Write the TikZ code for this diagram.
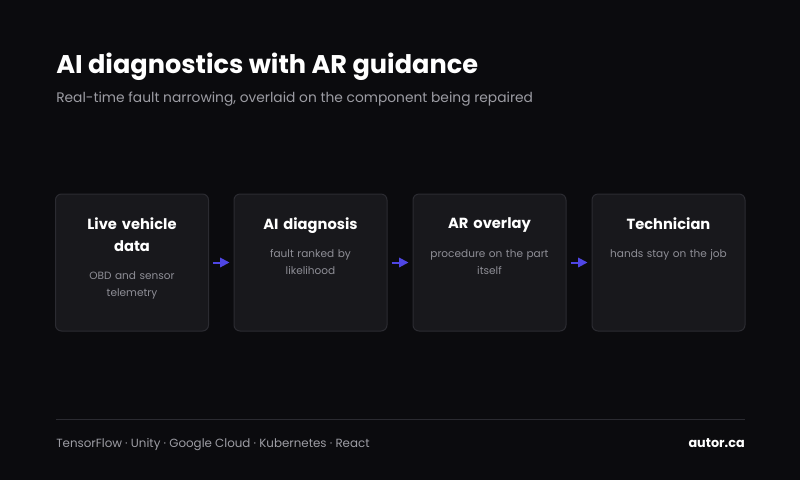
\documentclass[tikz,border=0pt]{standalone}
\usepackage{fontspec}
\setmainfont{Poppins}
\usetikzlibrary{arrows.meta}

\definecolor{bgcol}{HTML}{0B0B0E}
\definecolor{cardcol}{HTML}{18181C}
\definecolor{edgecol}{HTML}{2B2B31}
\definecolor{mutedcol}{HTML}{8E8E96}
\definecolor{subcol}{HTML}{9C9CA3}
\definecolor{linkcol}{HTML}{4F46E5}

\begin{document}
\begin{tikzpicture}[x=0.75pt,y=-0.75pt]
\tikzstyle{card}=[draw=edgecol, fill=cardcol, rounded corners=4.5pt, line width=0.75pt, minimum width=114.75pt, minimum height=102.75pt, inner sep=0pt]
\tikzstyle{cardhead}=[text=white, font=\fontsize{11}{16.5}\selectfont\bfseries, text width=105pt, align=center, anchor=north, inner sep=0pt]
\tikzstyle{cardbody}=[text=mutedcol, font=\fontsize{7.9}{12.75}\selectfont, text width=105pt, align=center, anchor=north, inner sep=0pt]
\tikzstyle{link}=[draw=linkcol, line width=1.5pt, -{Triangle[length=7pt,width=7pt]}]
\fill[bgcol] (0,0) rectangle (800,480);
\node (title) [anchor=base west, inner sep=0pt, text=white, font=\fontsize{19.2}{24}\selectfont\bfseries] at (56,73) {AI diagnostics with AR guidance};
\node (subtitle) [anchor=base west, inner sep=0pt, text=subcol, font=\fontsize{10.35}{14}\selectfont] at (56,102) {Real-time fault narrowing, overlaid on the component being repaired};
\node (b1) [card] at (132,262.5) {};
\node (b2) [card] at (310.5,262.5) {};
\node (b3) [card] at (489.5,262.5) {};
\node (b4) [card] at (668.5,262.5) {};
\node (h1) [cardhead] at (132,217) {Live vehicle\\data};
\node (t1) [cardbody] at (132,271) {OBD and sensor\\telemetry};
\node (h2) [cardhead] at (310.5,217) {AI diagnosis};
\node (t2) [cardbody] at (310.5,249) {fault ranked by\\likelihood};
\node (h3) [cardhead] at (489.5,217) {AR overlay};
\node (t3) [cardbody] at (489.5,249) {procedure on the part\\itself};
\node (h4) [cardhead] at (668.5,217) {Technician};
\node (t4) [cardbody] at (668.5,249) {hands stay on the job};
\draw[link] ([xshift=3pt]b1.east) -- ([xshift=-3pt]b2.west);
\draw[link] ([xshift=3pt]b2.east) -- ([xshift=-3pt]b3.west);
\draw[link] ([xshift=3pt]b3.east) -- ([xshift=-3pt]b4.west);
\coordinate (rulestart) at (56,419);
\coordinate (ruleend) at (745,419);
\draw[edgecol, line width=0.75pt] (rulestart) -- (ruleend);
\node (stack) [anchor=base west, inner sep=0pt, text=subcol, font=\fontsize{8.9}{12}\selectfont] at (56,447) {TensorFlow · Unity · Google Cloud · Kubernetes · React};
\node (site) [anchor=base east, inner sep=0pt, text=white, font=\fontsize{9.6}{12}\selectfont\bfseries] at (745,447) {autor.ca};
\end{tikzpicture}
\end{document}
